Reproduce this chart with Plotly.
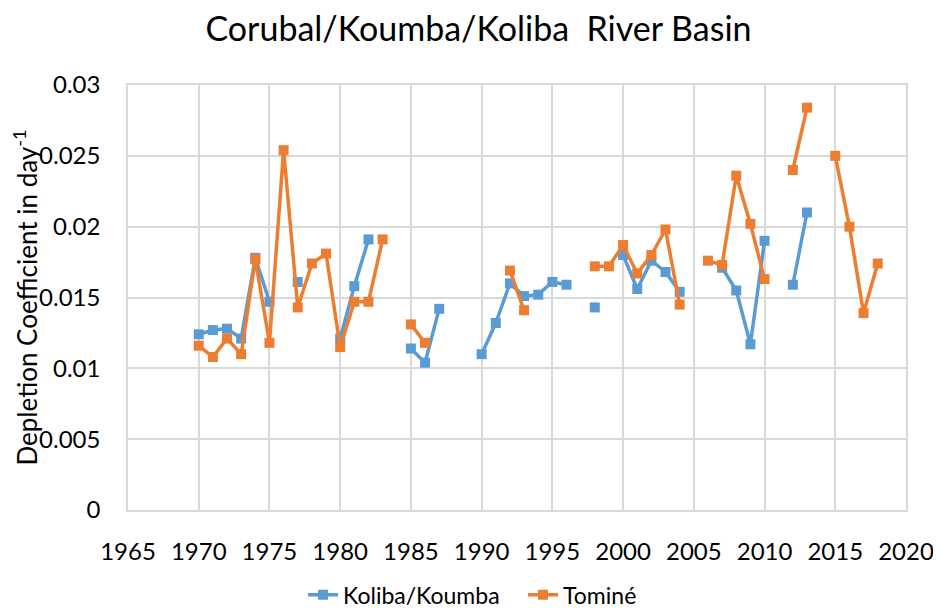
import plotly.graph_objects as go

# Depletion coefficient per year (None = no value for that year)
years = list(range(1970, 2019))

koliba = {
    1970: 0.0124, 1971: 0.0127, 1972: 0.0128, 1973: 0.0121, 1974: 0.0178, 1975: 0.0147,
    1977: 0.0161,
    1980: 0.0121, 1981: 0.0158, 1982: 0.0191,
    1985: 0.0114, 1986: 0.0104, 1987: 0.0142,
    1990: 0.0110, 1991: 0.0132, 1992: 0.0160, 1993: 0.0151, 1994: 0.0152, 1995: 0.0161, 1996: 0.0159,
    1998: 0.0143,
    2000: 0.0180, 2001: 0.0156, 2002: 0.0176, 2003: 0.0168, 2004: 0.0154,
    2007: 0.0171, 2008: 0.0155, 2009: 0.0117, 2010: 0.0190,
    2012: 0.0159, 2013: 0.0210,
}

tomine = {
    1970: 0.0116, 1971: 0.0108, 1972: 0.0121, 1973: 0.0110, 1974: 0.0177, 1975: 0.0118,
    1976: 0.0254, 1977: 0.0143, 1978: 0.0174, 1979: 0.0181, 1980: 0.0115, 1981: 0.0147,
    1982: 0.0147, 1983: 0.0191,
    1985: 0.0131, 1986: 0.0118,
    1992: 0.0169, 1993: 0.0141,
    1998: 0.0172, 1999: 0.0172, 2000: 0.0187, 2001: 0.0167, 2002: 0.0180, 2003: 0.0198, 2004: 0.0145,
    2006: 0.0176, 2007: 0.0173, 2008: 0.0236, 2009: 0.0202, 2010: 0.0163,
    2012: 0.0240, 2013: 0.0284,
    2015: 0.0250, 2016: 0.0200, 2017: 0.0139, 2018: 0.0174,
}

koliba_vals = [koliba.get(y) for y in years]
tomine_vals = [tomine.get(y) for y in years]

x_ticks = list(range(1965, 2021, 5))
y_ticks = [0, 0.005, 0.01, 0.015, 0.02, 0.025, 0.03]
y_labels = ["0", "0.005", "0.01", "0.015", "0.02", "0.025", "0.03"]

FONT = "Lato, Open Sans, sans-serif"
BLUE = "#5B9BD5"
ORANGE = "#ED7D31"
GRID = "#d9d9d9"

fig = go.Figure()
fig.add_trace(go.Scatter(
    x=years, y=koliba_vals, name="Koliba/Koumba", mode="lines+markers",
    line=dict(color=BLUE, width=3.5), marker=dict(symbol="square", size=10, color=BLUE),
    connectgaps=False,
))
fig.add_trace(go.Scatter(
    x=years, y=tomine_vals, name="Tominé", mode="lines+markers",
    line=dict(color=ORANGE, width=3.5), marker=dict(symbol="square", size=10, color=ORANGE),
    connectgaps=False,
))

# page body has an 8px margin, so margins are shifted by 8px
fig.update_layout(
    width=941, height=612,
    margin=dict(l=120, r=43, t=77, b=110),
    paper_bgcolor="white", plot_bgcolor="white",
    font=dict(family=FONT, size=24, color="#000000"),
    title=dict(text="Corubal/Koumba/Koliba  River Basin", x=0.5, xanchor="center",
               y=0.965, yanchor="middle", font=dict(size=34, family=FONT, color="#000000")),
    legend=dict(orientation="h", x=0.225, xanchor="left", y=0.041, yref="container",
                yanchor="middle", entrywidth=175, font=dict(size=23)),
    showlegend=True,
)
fig.update_xaxes(
    range=[1965, 2020], tickvals=x_ticks, showgrid=True, gridcolor=GRID, gridwidth=1.5,
    zeroline=False, showline=True, mirror=True, linecolor=GRID, linewidth=1.5,
    ticks="outside", ticklen=19, tickcolor="rgba(0,0,0,0)", automargin=False,
)
fig.update_yaxes(
    range=[0, 0.03], tickvals=y_ticks, ticktext=y_labels, showgrid=True, gridcolor=GRID,
    gridwidth=1.5, zeroline=False, showline=True, mirror=True, linecolor=GRID, linewidth=1.5,
    ticks="outside", ticklen=21, tickcolor="rgba(0,0,0,0)", automargin=False,
    title=dict(text="Depletion Coefficient in day<sup>-1</sup>", standoff=6, font=dict(size=26)),
)

fig.write_html("out.html")
